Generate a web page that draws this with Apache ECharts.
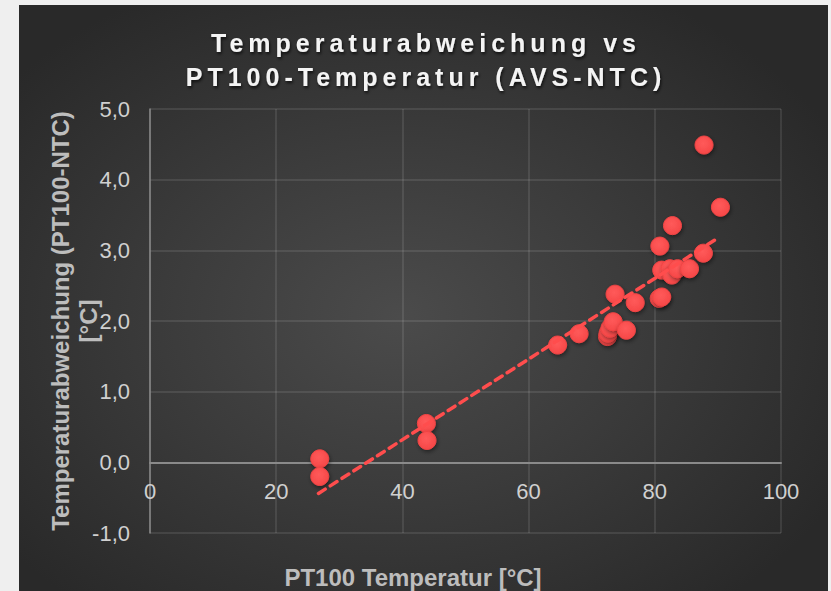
<!DOCTYPE html>
<html>
<head>
<meta charset="utf-8">
<title>Temperaturabweichung vs PT100-Temperatur</title>
<script src="https://cdn.jsdelivr.net/npm/echarts@6.0.0/dist/echarts.min.js"></script>
<style>
  html, body { margin: 0; padding: 0; width: 831px; height: 591px; overflow: hidden; background: #efefef; }
  #panel {
    position: absolute; left: 19px; top: 5px; width: 809px; height: 600px;
    background: radial-gradient(ellipse 62% 62% at 47% 52%, #4b4b4b 0%, #3c3c3c 45%, #292929 100%);
  }
  #chart { position: absolute; left: 0; top: 0; width: 831px; height: 591px; }
  /* wide character spacing for the chart heading */
  #chart text[style*="25px"] { letter-spacing: 5px; }
</style>
</head>
<body>
<div id="panel"></div>
<div id="chart"></div>
<script>
// PT100 reference temperature [°C]
const pt100Temp = [26.9, 26.9, 43.8, 43.9, 64.6, 68.0, 72.5, 72.6, 72.9, 73.4, 73.7, 75.5, 76.9,
                   80.7, 81.1, 80.8, 81.1, 82.4, 82.7, 83.6, 85.5, 87.7, 82.8, 90.4, 87.8];
// deviation PT100 - NTC [°C]
const deviation = [0.05, -0.20, 0.55, 0.31, 1.66, 1.82, 1.78, 1.83, 1.90, 1.99, 2.38, 1.87, 2.26,
                   2.32, 2.34, 3.06, 2.72, 2.74, 2.65, 2.74, 2.74, 2.96, 3.35, 3.61, 4.49];
// linear trendline end points [x, y]
const trendX = [26.7, 90.1];
const trendY = [-0.44, 3.18];
// axis settings
const xTicks = { min: 0, max: 100, step: 20 };
const yTicks = { min: -1, max: 5, step: 1 };

const font = "'Liberation Sans', Arial, sans-serif";
const points = pt100Temp.map((x, i) => [x, deviation[i]]);
const trend = trendX.map((x, i) => [x, trendY[i]]);

const gridTop = 109, gridBottom = 58, chartHeight = 591;
const plotHeight = chartHeight - gridTop - gridBottom;
// lift the x axis (line + labels) from the bottom edge up to y = 0
const zeroOffset = -plotHeight * (0 - yTicks.min) / (yTicks.max - yTicks.min);

const chart = echarts.init(document.getElementById('chart'), null, { renderer: 'svg' });
chart.setOption({
  animation: false,
  backgroundColor: 'transparent',
  title: [
    {
      text: 'Temperaturabweichung vs\nPT100-Temperatur (AVS-NTC)',
      left: 426, top: 26, padding: 0, textAlign: 'center',
      textStyle: {
        fontFamily: font, fontSize: 25, fontWeight: 'bold', color: '#f4f4f4', lineHeight: 34,
        textShadowColor: 'rgba(0,0,0,0.7)', textShadowBlur: 3, textShadowOffsetX: 1, textShadowOffsetY: 2
      }
    },
    {
      text: 'PT100 Temperatur [°C]',
      left: 413, top: 565, padding: 0, textAlign: 'center',
      textStyle: { fontFamily: font, fontSize: 24, fontWeight: 'bold', color: '#bdbdbd', lineHeight: 24 }
    }
  ],
  grid: { left: 150, right: 50, top: gridTop, bottom: gridBottom, containLabel: false },
  xAxis: {
    type: 'value', min: xTicks.min, max: xTicks.max, interval: xTicks.step,
    offset: zeroOffset,
    axisLine: { show: true, onZero: false, lineStyle: { color: '#8a8a8a', width: 2 } },
    axisTick: { show: false },
    axisLabel: { color: '#d0d0d0', fontFamily: font, fontSize: 22, margin: 18 },
    splitLine: { show: true, lineStyle: { color: 'rgba(255,255,255,0.13)', width: 1.5 } }
  },
  yAxis: {
    type: 'value', min: yTicks.min, max: yTicks.max, interval: yTicks.step,
    name: 'Temperaturabweichung (PT100-NTC)\n[°C]',
    nameLocation: 'middle', nameRotate: 90, nameGap: 48, nameMoveOverlap: false,
    nameTextStyle: { color: '#bdbdbd', fontFamily: font, fontSize: 24, fontWeight: 'bold', lineHeight: 28 },
    axisLine: { show: true, onZero: false, lineStyle: { color: '#8a8a8a', width: 1.5 } },
    axisTick: { show: false },
    axisLabel: {
      color: '#d0d0d0', fontFamily: font, fontSize: 22, margin: 20,
      formatter: v => v.toFixed(1).replace('.', ',')
    },
    splitLine: { show: true, lineStyle: { color: 'rgba(255,255,255,0.13)', width: 1.5 } }
  },
  series: [
    {
      type: 'scatter',
      data: points,
      symbol: 'circle',
      symbolSize: 18,
      z: 3,
      itemStyle: {
        opacity: 1,
        color: {
          type: 'radial', x: 0.45, y: 0.4, r: 0.6,
          colorStops: [{ offset: 0, color: '#ff5a5a' }, { offset: 1, color: '#f64848' }]
        },
        borderColor: '#f04444',
        borderWidth: 1,
        shadowColor: 'rgba(0,0,0,0.45)',
        shadowBlur: 4,
        shadowOffsetX: 1,
        shadowOffsetY: 2
      }
    },
    {
      type: 'line',
      data: trend,
      symbol: 'none',
      z: 4,
      lineStyle: { color: '#ff4d4d', width: 3.5, type: [8, 6], cap: 'round' }
    }
  ]
});
</script>
</body>
</html>
